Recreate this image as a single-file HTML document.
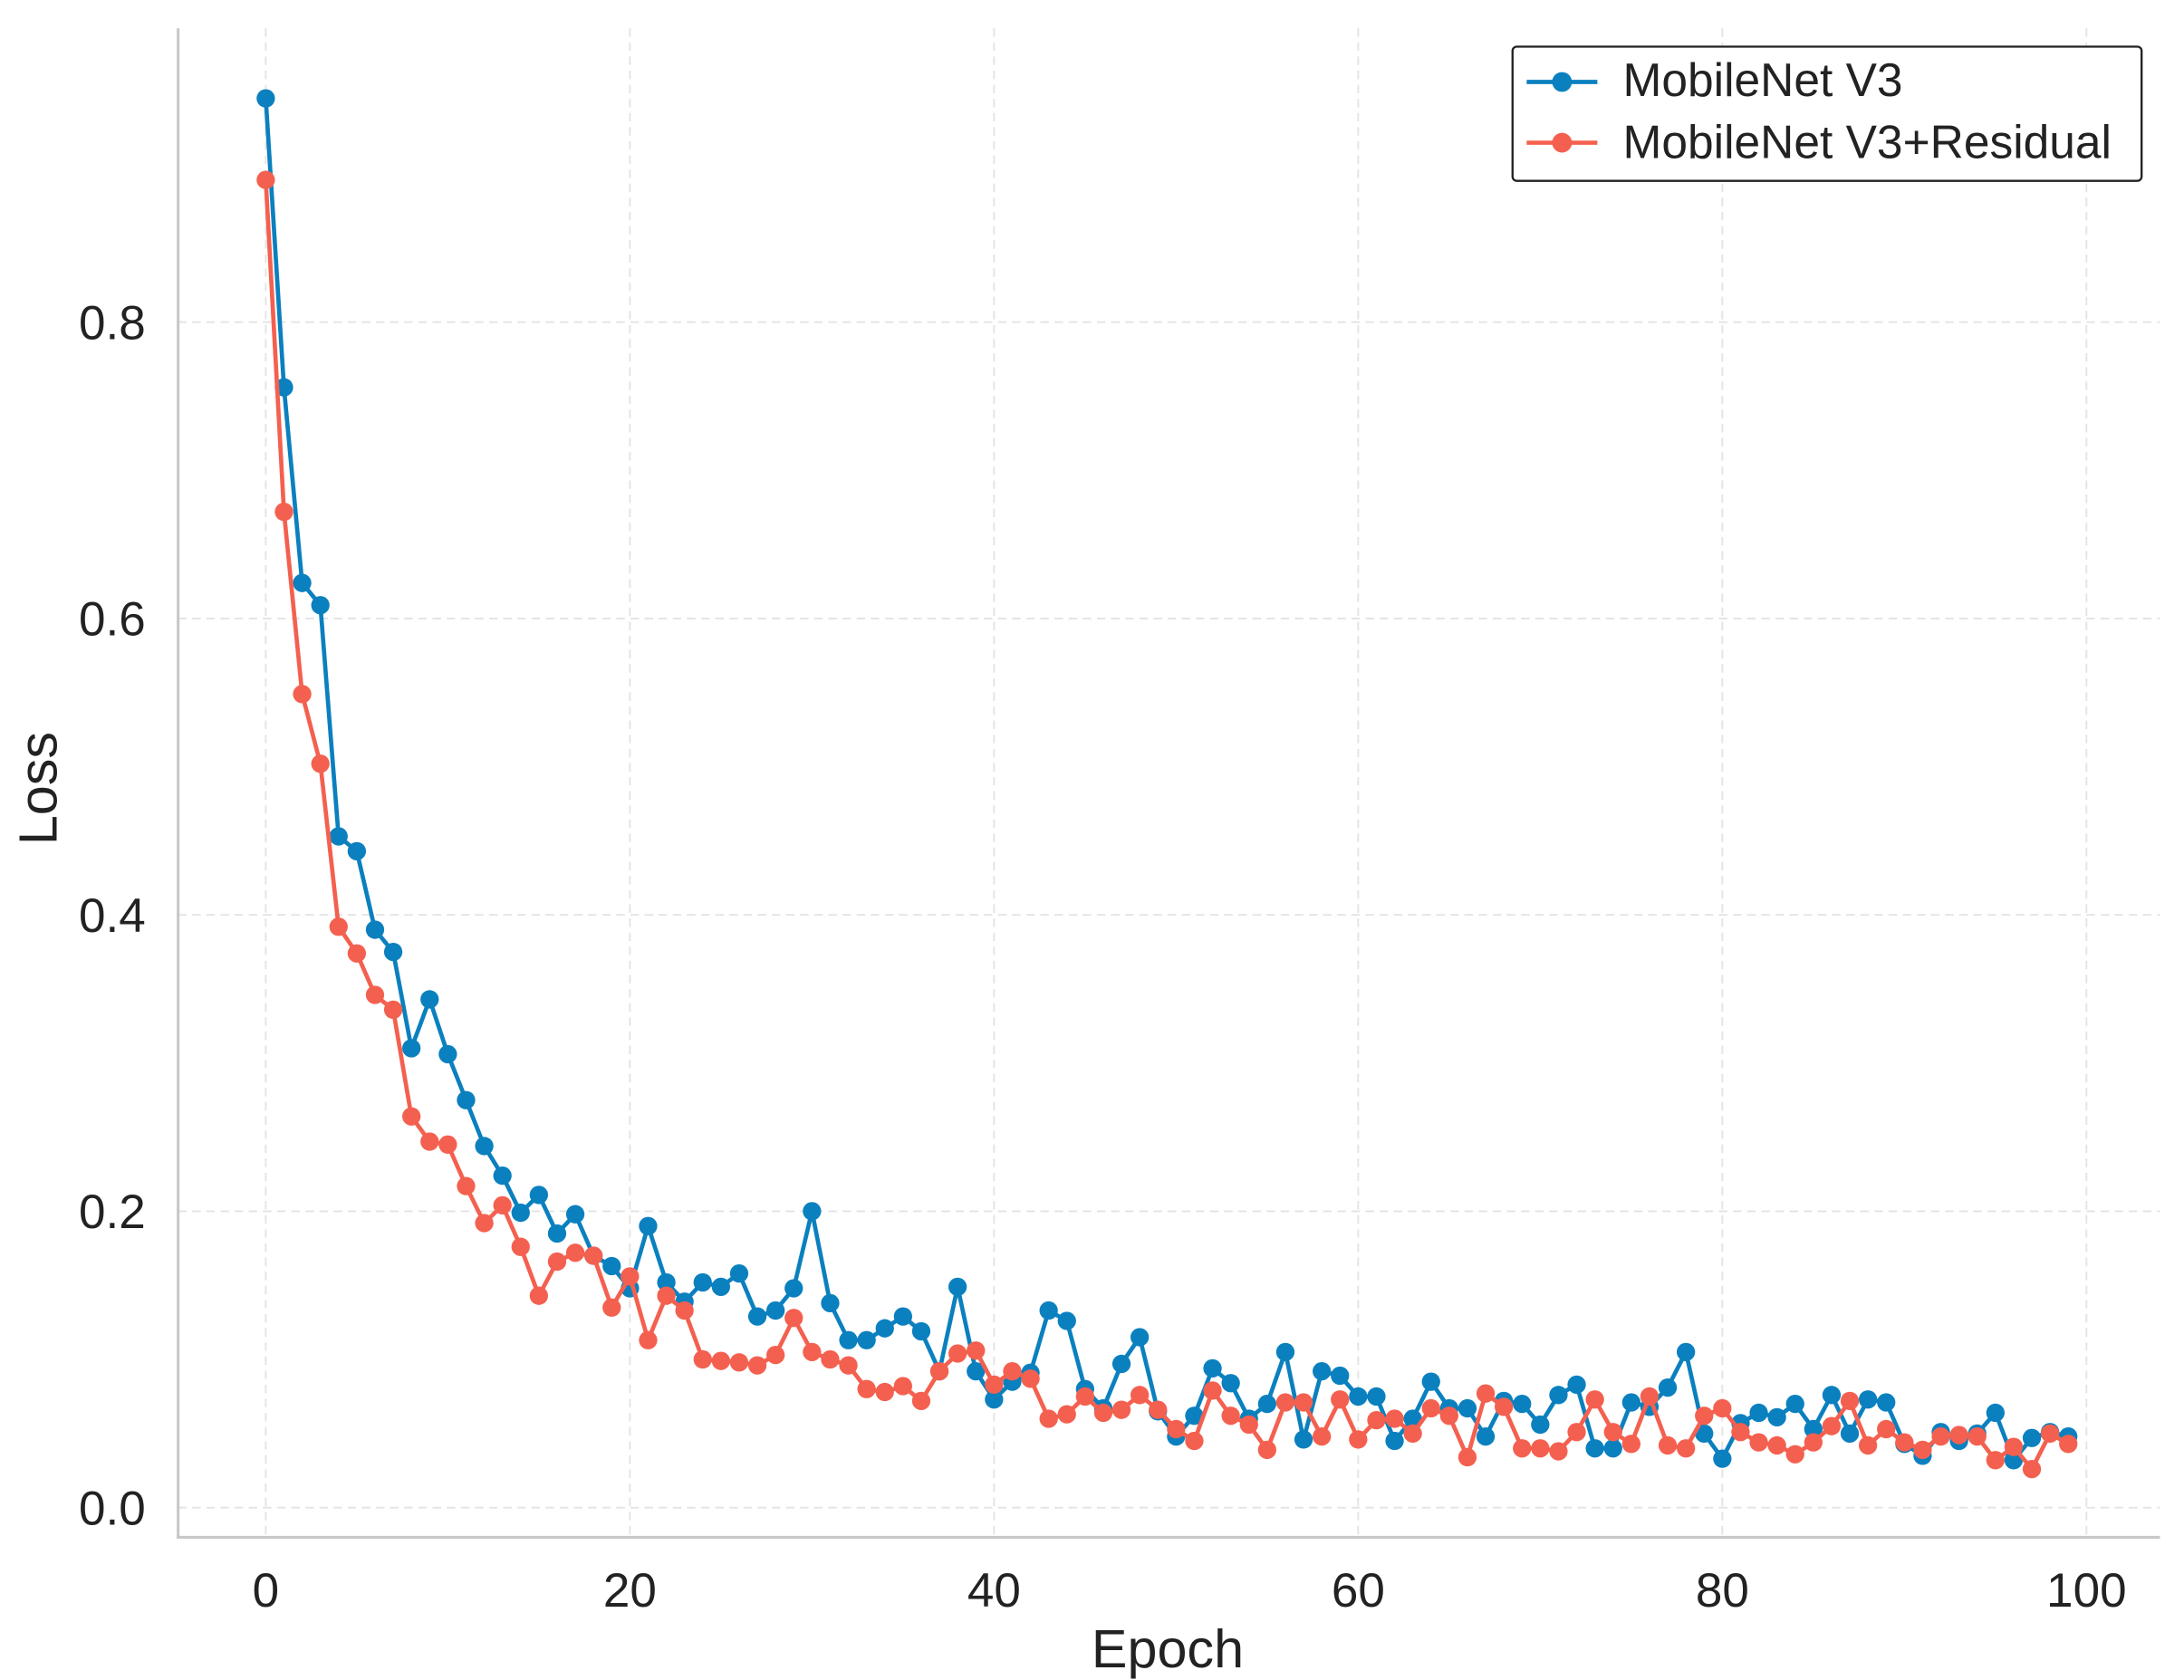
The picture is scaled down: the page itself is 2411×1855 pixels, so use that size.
<!DOCTYPE html>
<html><head><meta charset="utf-8"><style>
html,body{margin:0;padding:0;background:#fff;}
svg{display:block;}
text{font-family:"Liberation Sans",sans-serif;fill:#222;}
</style></head><body>
<svg id="chart" width="2411" height="1855" viewBox="0 0 1545 1189" preserveAspectRatio="none" xmlns="http://www.w3.org/2000/svg">
<g id="grid"></g>
<g id="axes"></g>
<g id="series"></g>
<g id="legend">
  <rect x="1070" y="33" width="445" height="95" rx="3" fill="#fff" stroke="#222" stroke-width="1.5"/>
  <g>
    <line x1="1080" y1="58" x2="1130" y2="58" stroke="#0b80bf" stroke-width="3"/>
    <circle cx="1105" cy="58" r="7" fill="#0b80bf"/>
    <text x="1148" y="68" font-size="33">MobileNet V3</text>
  </g>
  <g>
    <line x1="1080" y1="101" x2="1130" y2="101" stroke="#f4604f" stroke-width="3"/>
    <circle cx="1105" cy="101" r="7" fill="#f4604f"/>
    <text x="1148" y="112" font-size="33">MobileNet V3+Residual</text>
  </g>
</g>
</svg>
<script>
const epochs = Array.from({length:100},(_, i)=>i);
const mobilenetLoss = [0.951,0.756,0.624,0.609,0.453,0.443,0.390,0.375,0.310,0.343,0.306,0.275,0.244,0.224,0.199,0.211,0.185,0.198,0.170,0.163,0.148,0.190,0.152,0.139,0.152,0.149,0.158,0.129,0.133,0.148,0.200,0.138,0.113,0.113,0.121,0.129,0.119,0.092,0.149,0.092,0.073,0.085,0.091,0.133,0.126,0.080,0.067,0.097,0.115,0.065,0.048,0.062,0.094,0.084,0.060,0.070,0.105,0.046,0.092,0.089,0.075,0.075,0.045,0.060,0.085,0.067,0.067,0.048,0.072,0.070,0.056,0.076,0.083,0.040,0.040,0.071,0.068,0.081,0.105,0.050,0.033,0.057,0.064,0.061,0.070,0.053,0.076,0.050,0.073,0.071,0.043,0.035,0.051,0.045,0.050,0.064,0.032,0.047,0.051,0.048];
const residualLoss = [0.896,0.672,0.549,0.502,0.392,0.374,0.346,0.336,0.264,0.247,0.245,0.217,0.192,0.204,0.176,0.143,0.166,0.172,0.170,0.135,0.156,0.113,0.143,0.133,0.100,0.099,0.098,0.096,0.103,0.128,0.105,0.100,0.096,0.080,0.078,0.082,0.072,0.092,0.104,0.106,0.083,0.092,0.087,0.060,0.063,0.075,0.064,0.066,0.076,0.066,0.053,0.045,0.079,0.062,0.056,0.039,0.071,0.071,0.048,0.073,0.046,0.059,0.060,0.050,0.067,0.062,0.034,0.077,0.068,0.040,0.040,0.038,0.051,0.073,0.051,0.043,0.075,0.042,0.040,0.062,0.067,0.051,0.044,0.042,0.036,0.044,0.055,0.072,0.042,0.053,0.044,0.039,0.048,0.049,0.048,0.032,0.041,0.026,0.050,0.043];
const xTicks = [0,20,40,60,80,100];
const yTicks = [0.0,0.2,0.4,0.6,0.8];
const yTickLabels = ["0.0","0.2","0.4","0.6","0.8"];

const NS="http://www.w3.org/2000/svg";
const xS = v => 188 + v*12.88;
const yS = v => 1067 - v*1048.75;
function mk(tag, attrs, parent){const e=document.createElementNS(NS,tag);for(const k in attrs)e.setAttribute(k,attrs[k]);parent.appendChild(e);return e;}
const grid=document.getElementById('grid'), axes=document.getElementById('axes'), series=document.getElementById('series');

xTicks.forEach(t=>{
  const l=mk('line',{x1:xS(t),x2:xS(t),y1:20,y2:1088,stroke:'#e3e3e3','stroke-width':1.2,'stroke-dasharray':'6 4'},grid);
  
  
  const tx=mk('text',{x:xS(t),y:1137,'font-size':34,'text-anchor':'middle'},axes);
  tx.textContent=t;
  
  
});
yTicks.forEach((t,i)=>{
  const l=mk('line',{x1:126,x2:1528,y1:yS(t),y2:yS(t),stroke:'#e3e3e3','stroke-width':1.2,'stroke-dasharray':'6 4'},grid);
  
  
  const tx=mk('text',{x:103,y:yS(t)+12,'font-size':34,'text-anchor':'end'},axes);
  tx.textContent=yTickLabels[i];
  
  
});
const ls=mk('line',{x1:126,x2:126,y1:20,y2:1089,stroke:'#c8c8c8','stroke-width':2},axes);


const bs=mk('line',{x1:125,x2:1528,y1:1088,y2:1088,stroke:'#c8c8c8','stroke-width':2},axes);


const xt=mk('text',{x:826,y:1180,'font-size':38,'text-anchor':'middle'},axes);
xt.textContent='Epoch';


const yt=mk('text',{x:0,y:0,'font-size':38,'text-anchor':'middle',transform:'translate(40,558) rotate(-90)'},axes);
yt.textContent='Loss';



function drawSeries(vals,color,name){
  const g=mk('g',{},series);
  
  
  const pts=vals.map((v,i)=>xS(epochs[i])+','+yS(v)).join(' ');
  const pl=mk('polyline',{points:pts,fill:'none',stroke:color,'stroke-width':3,'stroke-linejoin':'round'},g);
  
  
  vals.forEach((v,i)=>{
    const c=mk('circle',{cx:xS(epochs[i]),cy:yS(v),r:6.5,fill:color},g);
    
    
  });
}
drawSeries(mobilenetLoss,'#0b80bf','mobilenet-v3-series');
drawSeries(residualLoss,'#f4604f','mobilenet-v3-residual-series');
</script>
</body></html>
